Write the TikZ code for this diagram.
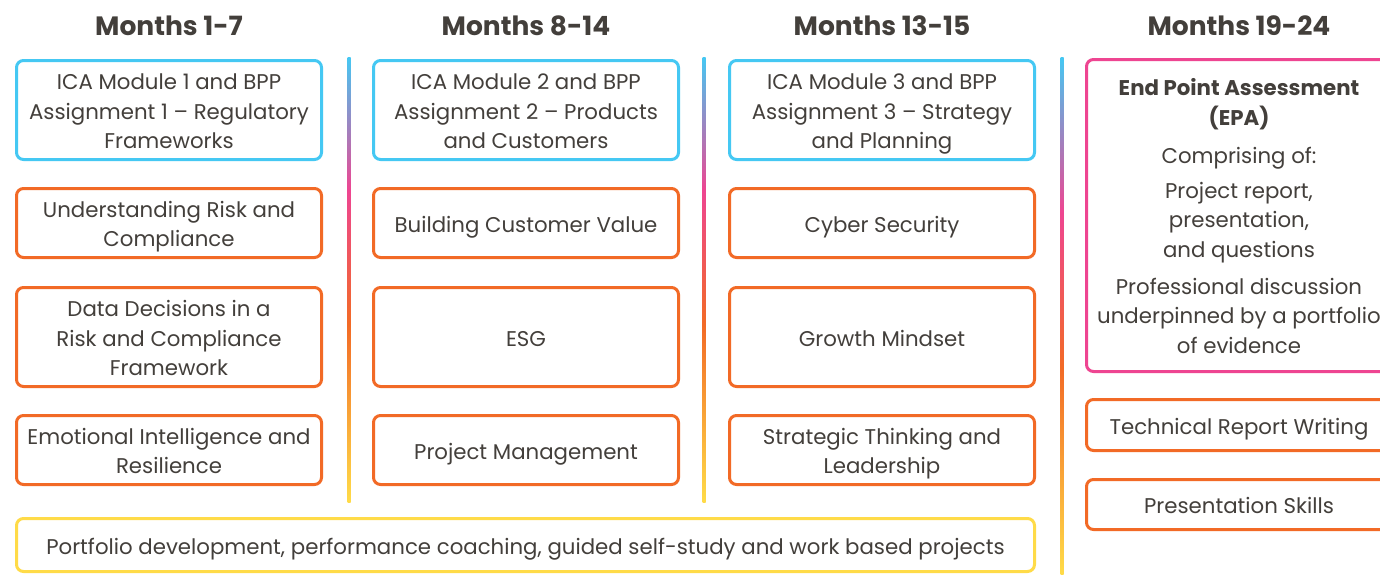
\documentclass[tikz,border=0pt]{standalone}
\usepackage{fontspec}
\setmainfont{Poppins}
\definecolor{txt}{HTML}{433F3B}
\definecolor{cblue}{HTML}{45C8F3}
\definecolor{corange}{HTML}{F26A26}
\definecolor{cpink}{HTML}{EE4591}
\definecolor{cyellow}{HTML}{FFDB48}
\pgfdeclareverticalshading{divgrad}{100bp}{color(0bp)=(cyellow); color(25bp)=(cyellow); color(45bp)=(corange); color(60bp)=(cpink); color(75bp)=(cblue); color(100bp)=(cblue)}
\newcommand{\fs}{\rule{0pt}{25pt}}
\newcommand{\fe}{\rule[-7pt]{0pt}{7pt}}
\tikzset{
  box/.style={draw, line width=3pt, rounded corners=7pt, minimum width=305pt, align=center, text=txt, font=\fontsize{21.3}{29.5}\selectfont, inner sep=0pt, fill=white},
  bluebox/.style={box, draw=cblue, minimum height=99pt},
  orbox/.style={box, draw=corange},
  title/.style={anchor=base, text=txt, font=\fontsize{26.5}{32}\selectfont\bfseries},
  divider/.style={shading=divgrad}
}
\begin{document}
\begin{tikzpicture}[x=1pt,y=-1pt]
\useasboundingbox (0,0) rectangle (1380,574);
\clip (0,0) rectangle (1380,574);
\fill[white] (0,0) rectangle (1380,574);
% titles
\node[title] (t1) at (169,35) {Months 1-7};
\node[title] (t2) at (526,35) {Months 8-14};
\node[title] (t3) at (882,35) {Months 13-15};
\node[title] (t4) at (1239,35) {Months 19-24};
% dividers
\shade[divider] (347.5,57) rectangle (350.5,502);
\shade[divider] (702.5,57) rectangle (705.5,502);
\shade[divider] (1060.5,57) rectangle (1063.5,574);
% column 1
\node[bluebox] (a1) at (169,110) {\fs ICA Module 1 and BPP\\Assignment 1 – Regulatory\\Frameworks\fe};
\node[orbox, minimum height=69pt] (a2) at (169,223) {\fs Understanding Risk and\\Compliance\fe};
\node[orbox, minimum height=99pt] (a3) at (169,337) {\fs Data Decisions in a\\Risk and Compliance\\Framework\fe};
\node[orbox, minimum height=69pt] (a4) at (169,450) {\fs Emotional Intelligence and\\Resilience\fe};
% column 2
\node[bluebox] (b1) at (526,110) {\fs ICA Module 2 and BPP\\Assignment 2 – Products\\and Customers\fe};
\node[orbox, minimum height=69pt] (b2) at (526,223) {\fs Building Customer Value\fe};
\node[orbox, minimum height=99pt] (b3) at (526,337) {\fs ESG\fe};
\node[orbox, minimum height=69pt] (b4) at (526,450) {\fs Project Management\fe};
% column 3
\node[bluebox] (c1) at (882,110) {\fs ICA Module 3 and BPP\\Assignment 3 – Strategy\\and Planning\fe};
\node[orbox, minimum height=69pt] (c2) at (882,223) {\fs Cyber Security\fe};
\node[orbox, minimum height=99pt] (c3) at (882,337) {\fs Growth Mindset\fe};
\node[orbox, minimum height=69pt] (c4) at (882,450) {\fs Strategic Thinking and\\Leadership\fe};
% column 4
\node[box, draw=cpink, minimum height=312pt] (d1) at (1239,215.5) {\fs\textbf{End Point Assessment}\\\textbf{(EPA)}\\[8.5pt]Comprising of:\\[5.5pt]Project report,\\presentation,\\and questions\\[7.5pt]Professional discussion\\underpinned by a portfolio\\of evidence\fe};
\node[orbox, minimum height=51pt] (d2) at (1239,425) {\fs Technical Report Writing\fe};
\node[orbox, minimum height=50pt] (d3) at (1239,504.5) {\fs Presentation Skills\fe};
% bottom
\node[box, draw=cyellow, minimum width=1018pt, minimum height=53pt] (e1) at (525.5,545) {\fs Portfolio development, performance coaching, guided self-study and work based projects\fe};
\end{tikzpicture}
\end{document}
